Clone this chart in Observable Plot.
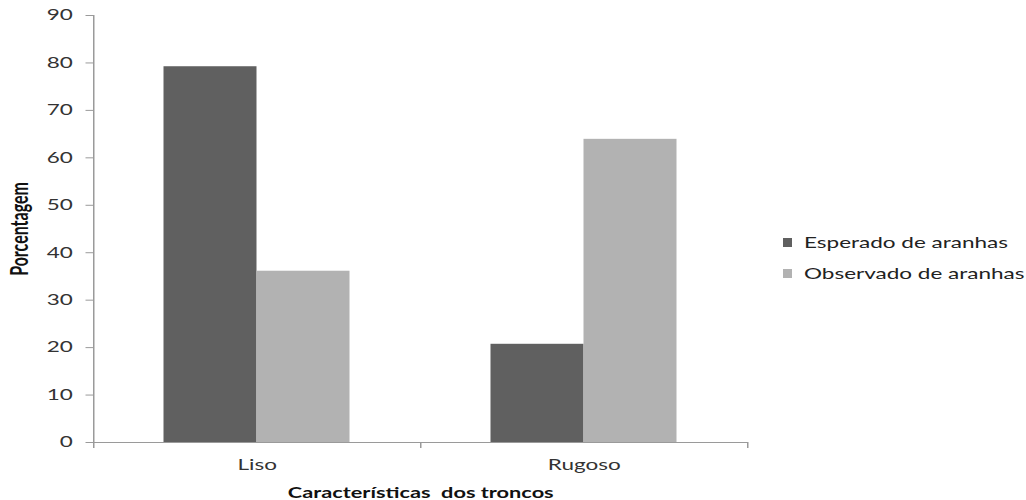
<!DOCTYPE html>
<html>
<head>
<meta charset="utf-8">
<script src="https://cdn.jsdelivr.net/npm/d3@7"></script>
<script src="https://cdn.jsdelivr.net/npm/@observablehq/plot@0.6"></script>
<style>
  html, body { margin: 0; padding: 0; background: #fff; }
  /* the chart is laid out narrow and widened horizontally as a whole */
  #chart {
    position: relative;
    width: 684px;
    height: 500px;
    transform: scaleX(1.5);
    transform-origin: 0 0;
    font-family: Lato, "Open Sans", sans-serif;
  }
  #legend { position: absolute; left: 522px; top: 233px; }
  #legend .lg-swatch { padding-bottom: 13px !important; margin: 0 !important; color: #222; }
  #legend .lg-swatch svg { margin-right: 8px !important; }
</style>
</head>
<body>
<div id="chart"><div id="legend"></div></div>
<script>
// Percentage of spiders by trunk texture: expected vs observed
const categories = ["Liso", "Rugoso"];
const series = ["Esperado de aranhas", "Observado de aranhas"];
const esperado = [79.2, 20.7];
const observado = [36.1, 63.9];
const yTicks = [0, 10, 20, 30, 40, 50, 60, 70, 80, 90];
const yLabel = "Porcentagem";
const xLabel = "Características  dos troncos";
const colors = ["#606060", "#b2b2b2"];

const data = categories.flatMap((categoria, i) => [
  {categoria, serie: series[0], valor: esperado[i]},
  {categoria, serie: series[1], valor: observado[i]}
]);

const W = 684, H = 500;
const margin = {top: 15, right: 186, bottom: 58, left: 62};
const plotH = H - margin.top - margin.bottom;
const axisGray = "#9a9a9a";
const textColor = "#333";

const chart = Plot.plot({
  width: W,
  height: H,
  marginTop: margin.top,
  marginRight: margin.right,
  marginBottom: margin.bottom,
  marginLeft: margin.left,
  style: {fontFamily: "Lato, 'Open Sans', sans-serif", fontSize: "15px", color: textColor, background: "#fff"},
  fx: {domain: categories, padding: 0, label: null},
  x: {domain: series, paddingInner: 0, paddingOuter: 0.757, axis: null},
  y: {domain: [0, 90], axis: null},
  color: {domain: series, range: colors},
  marks: [
    Plot.barY(data, {fx: "categoria", x: "serie", y: "valor", fill: "serie"}),
    // baseline and left axis line
    Plot.ruleY([0], {stroke: axisGray}),
    Plot.frame({anchor: "left", facetAnchor: "left", stroke: axisGray, strokeOpacity: 1}),
    // short category boundary ticks below the baseline
    Plot.frame({anchor: "left", insetTop: plotH, insetBottom: -5, stroke: axisGray, strokeOpacity: 1}),
    Plot.frame({anchor: "right", facetAnchor: "right", insetTop: plotH, insetBottom: -5, stroke: axisGray, strokeOpacity: 1}),
    Plot.axisY({ticks: yTicks, tickSize: 5, tickPadding: 9, stroke: axisGray, fill: textColor, label: null, fontSize: 15}),
    Plot.text([yLabel], {frameAnchor: "left", facetAnchor: "left", textAnchor: "middle", lineAnchor: "middle", rotate: -90, dx: -49, fontWeight: "bold", fontSize: 16, fill: "#111"}),
    Plot.axisFx({anchor: "bottom", tickSize: 0, tickPadding: 17, label: null, fontSize: 15, fill: textColor}),
    Plot.axisFx({anchor: "bottom", ticks: [], label: xLabel, labelAnchor: "center", labelOffset: 55, fontWeight: "bold", fontSize: 14.5, fill: "#111"})
  ]
});
document.getElementById("chart").prepend(chart);

const legend = Plot.legend({
  color: {domain: series, range: colors},
  legend: "swatches",
  columns: 1,
  swatchWidth: 6,
  swatchHeight: 9,
  className: "lg",
  style: {fontFamily: "Lato, 'Open Sans', sans-serif", fontSize: "15px", color: "#222"}
});
document.getElementById("legend").appendChild(legend);
</script>
</body>
</html>
